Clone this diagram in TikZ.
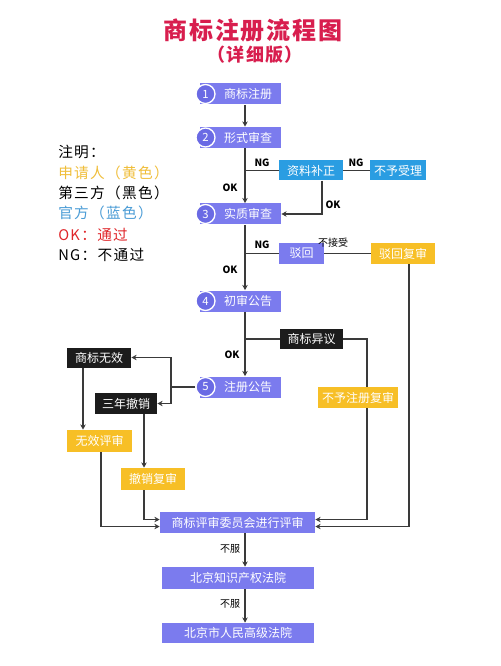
\documentclass[tikz,border=0pt]{standalone}
\usepackage{fontspec}
\setmainfont{Noto Sans CJK SC}
\usetikzlibrary{arrows.meta,calc}
\definecolor{pur}{HTML}{7B7BEE}
\definecolor{purd}{HTML}{6A6AE4}
\definecolor{blu}{HTML}{2A9DE2}
\definecolor{yel}{HTML}{F7BF26}
\definecolor{blk}{HTML}{1C1C1C}
\definecolor{ttl}{HTML}{D81E4E}
\definecolor{lnc}{HTML}{3A3A3A}
\definecolor{legy}{HTML}{F0BE3A}
\definecolor{legb}{HTML}{4A9CD6}
\definecolor{legr}{HTML}{E0262A}
\newcommand\stepn[4]{%
  \node[bx={60.75pt}{15.75pt}, fill=pur] (#1) at (240.5,#2) {};
  \node[circle, fill=purd, draw=white, line width=1pt, minimum size=14.25pt, inner sep=0pt, text=white, font=\fontsize{8.5}{9}\selectfont] (#1c) at (205.5,#2) {#3};
  \node[text=white, inner sep=0pt, font=\fontsize{9}{10}\selectfont] (#1t) at (248,#2) {#4};}
\begin{document}
\begin{tikzpicture}[x=0.75pt,y=-0.75pt,
  bx/.style 2 args={rectangle, inner sep=0pt, minimum width=#1, minimum height=#2, text=white, font=\fontsize{9}{10}\selectfont},
  ln/.style={draw=lnc, line width=0.9pt},
  arr/.style={ln, -{Stealth[length=4pt,width=4pt]}},
  lbl/.style={font=\fontsize{7.5}{8}\selectfont\bfseries, text=black, inner sep=0pt},
  clbl/.style={font=\fontsize{7.5}{8}\selectfont, text=black, inner sep=0pt},
  leg/.style={anchor=west, inner sep=0pt, font=\fontsize{11}{12}\selectfont\addfontfeature{LetterSpace=9}}]
\fill[white] (0,0) rectangle (500,666);
\useasboundingbox (0,0) rectangle (500,666);

% title
\node[text=ttl, font=\fontsize{18}{20}\selectfont\bfseries\addfontfeature{LetterSpace=8}] (title) at (253,30) {商标注册流程图};
\node[text=ttl, font=\fontsize{13.5}{15}\selectfont\bfseries\addfontfeature{LetterSpace=6}] (subtitle) at (255,55) {（详细版）};

% legend
\node[leg, text=black] (g1) at (58,152) {注明：};
\node[leg, text=legy] (g2) at (58,173) {申请人（黄色）};
\node[leg, text=black] (g3) at (58,193) {第三方（黑色）};
\node[leg, text=legb] (g4) at (58,213) {官方（蓝色）};
\node[leg, text=legr] (g5) at (58,235) {OK：通过};
\node[leg, text=black] (g6) at (58,255) {NG：不通过};

% main steps
\stepn{s1}{94}{1}{商标注册}
\stepn{s2}{137.5}{2}{形式审查}
\stepn{s3}{214}{3}{实质审查}
\stepn{s4}{301}{4}{初审公告}
\stepn{s5}{387}{5}{注册公告}

% other boxes
\node[bx={48pt}{15pt}, fill=blu] (bz) at (311,170.5) {资料补正};
\node[bx={42pt}{15pt}, fill=blu] (bs) at (398,170.5) {不予受理};
\node[bx={33.75pt}{15.75pt}, fill=pur] (bh) at (301.5,253.5) {驳回};
\node[bx={48pt}{15.75pt}, fill=yel] (bhf) at (403,253.5) {驳回复审};
\node[bx={47.25pt}{15pt}, fill=blk] (yy) at (311.5,339) {商标异议};
\node[bx={60pt}{15.75pt}, fill=yel] (bzf) at (358,397.5) {不予注册复审};
\node[bx={48pt}{15pt}, fill=blk] (wx) at (99,357.5) {商标无效};
\node[bx={46.5pt}{15.75pt}, fill=blk] (cx) at (126,403.5) {三年撤销};
\node[bx={48.75pt}{16.5pt}, fill=yel] (wxp) at (99.5,441) {无效评审};
\node[bx={48pt}{16.5pt}, fill=yel] (cxf) at (153,479) {撤销复审};
\node[bx={116.25pt}{15.75pt}, fill=pur] (wyh) at (237.5,522.5) {商标评审委员会进行评审};
\node[bx={114pt}{16.5pt}, fill=pur] (zc) at (238,578) {北京知识产权法院};
\node[bx={114pt}{15pt}, fill=pur] (gj) at (238,633) {北京市人民高级法院};

% helper coordinates
\coordinate (mx) at (245,0);
\coordinate (l1) at (83,0);
\coordinate (l2) at (101,0);
\coordinate (l3) at (144,0);
\coordinate (l4) at (322,0);
\coordinate (r1) at (409,0);
\coordinate (r2) at (367,339);
\coordinate (jl) at (171,387);

% main line
\draw[arr] (s1.south -| mx) -- (s2.north -| mx);
\draw[arr] (s2.south -| mx) -- (s3.north -| mx);
\draw[arr] (s3.south -| mx) -- (s4.north -| mx);
\draw[arr] (s4.south -| mx) -- (s5.north -| mx);
\draw[arr] (wyh.south -| mx) -- (zc.north -| mx);
\draw[arr] (zc.south -| mx) -- (gj.north -| mx);

% branches
\draw[ln] (bz.west -| mx) -- (bz.west);
\draw[ln] (bz.east) -- (bs.west);
\draw[arr] (bz.south -| l4) |- (s3.east);
\draw[ln] (bh.west -| mx) -- (bh.west);
\draw[ln] (bh.east) -- (bhf.west);
\draw[arr] (bhf.south -| r1) |- ($(wyh.east)+(0,4)$);
\draw[ln] (yy.west -| mx) -- (yy.west);
\draw[ln] (yy.east) -- (r2) -- (r2 |- bzf.north);
\draw[arr] (r2 |- bzf.south) |- ($(wyh.east)+(0,-3)$);
\draw[ln] (s5c.west) -- (jl);
\draw[arr] (jl) |- (wx.east);
\draw[arr] (jl) |- (cx.east);
\draw[arr] (wx.south -| l1) -- (wxp.north -| l1);
\draw[arr] (wxp.south -| l2) |- ($(wyh.west)+(0,4)$);
\draw[arr] (cx.south -| l3) -- (cxf.north -| l3);
\draw[arr] (cxf.south -| l3) |- ($(wyh.west)+(0,-3)$);

% labels
\node[lbl] (n1) at (262,163) {NG};
\node[lbl] (n2) at (356,163) {NG};
\node[lbl] (o1) at (230,188) {OK};
\node[lbl] (o2) at (333,205) {OK};
\node[lbl] (n3) at (262,245) {NG};
\node[clbl] (bj) at (333,243) {不接受};
\node[lbl] (o3) at (230,270) {OK};
\node[lbl] (o4) at (232,355) {OK};
\node[clbl] (bf1) at (230,549) {不服};
\node[clbl] (bf2) at (230,604) {不服};
\end{tikzpicture}
\end{document}
